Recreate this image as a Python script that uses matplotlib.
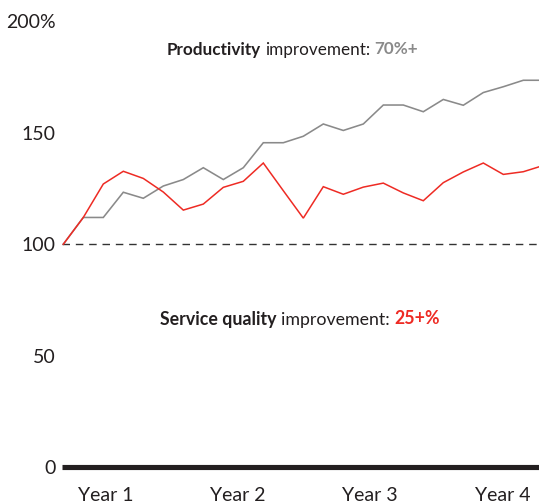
import matplotlib
matplotlib.use("Agg")
import matplotlib.pyplot as plt
from matplotlib.transforms import IdentityTransform

# ---- data ----
periods = list(range(25))
productivity = [100, 112, 112, 123.3, 120.6, 126.1, 129, 134.3, 129, 134.3, 145.5, 145.5,
                148.4, 153.9, 151, 153.9, 162.4, 162.4, 159.4, 164.9, 162.3, 168, 170.6, 173.5, 173.5]
service_quality = [100, 112, 127, 132.7, 129.5, 123.4, 115.3, 118, 125.5, 128.2, 136.4, 124,
                   111.7, 125.8, 122.4, 125.6, 127.4, 123, 119.5, 127.6, 132.4, 136.4, 131.3, 132.5, 135.3]
year_labels = ["Year 1", "Year 2", "Year 3", "Year 4"]
y_ticks = [0, 50, 100, 150, 200]
y_tick_labels = ["0", "50", "100", "150", "200%"]
baseline_value = 100

# ---- style ----
plt.rcParams['font.family'] = ['Lato', 'DejaVu Sans']
plt.rcParams['lines.scale_dashes'] = False
GRAY = "#8a8a8a"
RED = "#ee2b24"
DARK = "#231f20"
TEXT = "#231f20"

W, H, DPI = 539, 504, 100
fig = plt.figure(figsize=(W / DPI, H / DPI), dpi=DPI)
fig.patch.set_facecolor("white")

# axes spans px 62..539 horizontally, px 10..475 vertically (from top)
ax = fig.add_axes([62 / W, (H - 475) / H, (539 - 62) / W, 465 / H])
ax.set_xlim(-0.065, -0.065 + 477 / 20)
ax.set_ylim(-3.45, 205.0)
ax.patch.set_alpha(0)
for s in ax.spines.values():
    s.set_visible(False)

ax.plot(periods, productivity, color=GRAY, lw=1.15, solid_joinstyle="miter", zorder=3)
ax.plot(periods, service_quality, color=RED, lw=1.1, solid_joinstyle="miter", zorder=4)
ax.axhline(baseline_value, color="#333333", lw=1.0, dashes=(5.4, 4.2), zorder=2)
ax.axhline(0, color=DARK, lw=3.7, solid_capstyle="butt", zorder=2)

ax.set_yticks(y_ticks)
ax.set_yticklabels(y_tick_labels)
ax.tick_params(axis="y", length=0, pad=4.5, labelsize=14, labelcolor=TEXT)
year_positions = [2.13, 8.71, 15.33, 21.96]
ax.set_xticks(year_positions)
ax.set_xticklabels(year_labels)
ax.tick_params(axis="x", length=0, pad=8.5, labelsize=14, labelcolor=TEXT)


def rich_line(parts, center_x, baseline_y_from_top, size=12.5):
    renderer = fig.canvas.get_renderer()
    texts = []
    for txt, weight, color in parts:
        t = fig.text(0, 0, txt, fontsize=size, fontweight=weight, color=color,
                     transform=IdentityTransform(), ha="left", va="baseline")
        texts.append(t)
    sp = fig.text(0, 0, "a a", fontsize=size, transform=IdentityTransform())
    sp2 = fig.text(0, 0, "aa", fontsize=size, transform=IdentityTransform())
    space = sp.get_window_extent(renderer).width - sp2.get_window_extent(renderer).width
    sp.remove()
    sp2.remove()
    widths = [t.get_window_extent(renderer).width for t in texts]
    total = sum(widths) + space * (len(texts) - 1)
    x = center_x - total / 2
    y = H - baseline_y_from_top
    for t, w in zip(texts, widths):
        t.set_position((x, y))
        x += w + space


rich_line([("Productivity", "bold", TEXT), ("improvement:", "normal", TEXT),
           ("70%+", "bold", GRAY)], 292.5, 54.5, size=12.3)
rich_line([("Service quality", "bold", TEXT), ("improvement:", "normal", TEXT),
           ("25+%", "bold", RED)], 300, 324.5, size=12.8)

fig.savefig("out.png", dpi=DPI, facecolor="white")
